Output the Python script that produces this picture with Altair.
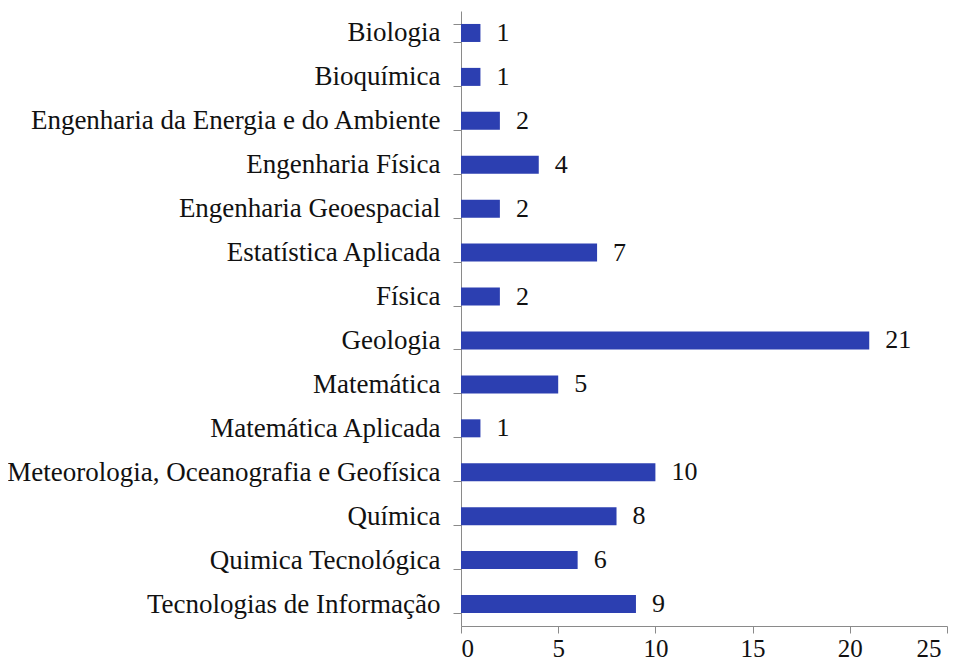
import altair as alt
import pandas as pd

categories = ["Biologia", "Bioquímica", "Engenharia da Energia e do Ambiente",
              "Engenharia Física", "Engenharia Geoespacial", "Estatística Aplicada",
              "Física", "Geologia", "Matemática", "Matemática Aplicada",
              "Meteorologia, Oceanografia e Geofísica", "Química",
              "Quimica Tecnológica", "Tecnologias de Informação"]
values = [1, 1, 2, 4, 2, 7, 2, 21, 5, 1, 10, 8, 6, 9]
x_ticks = [0, 5, 10, 15, 20, 25]

df = pd.DataFrame({"cat": categories, "val": values})
FONT = "Liberation Serif"
FS = 27

y_enc = alt.Y("cat:N", sort=None, title=None,
              scale=alt.Scale(paddingInner=0.59, paddingOuter=0.295),
              axis=alt.Axis(tickBand="extent", tickSize=8, labelPadding=13,
                            domainColor="#8a8a8a", tickColor="#8a8a8a",
                            labelFont=FONT, labelFontSize=FS, labelColor="#111111",
                            labelLimit=600))
x_enc = alt.X("val:Q", title=None,
              scale=alt.Scale(domain=[0, 25], nice=False),
              axis=alt.Axis(values=x_ticks, grid=False, tickSize=7, labelPadding=3,
                            domainColor="#8a8a8a", tickColor="#8a8a8a",
                            labelFont=FONT, labelFontSize=25, labelColor="#111111",
                            labelOffset={"condition": {"test": "datum.value == 25", "value": -6},
                                         "value": 0}))

bars = alt.Chart(df).mark_bar(color="#2C3FB1").encode(x=x_enc, y=y_enc)
labels = alt.Chart(df).mark_text(align="left", baseline="middle", dx=16,
                                 font=FONT, fontSize=26, color="#111111").encode(
    x="val:Q", y=alt.Y("cat:N", sort=None), text="val:Q")

chart = (bars + labels).properties(
    width=486, height=615,
    autosize=alt.AutoSizeParams(type="none"),
    padding={"left": 453, "top": 3, "right": 5, "bottom": 36},
    background="white",
).configure_view(stroke=None)

chart.save("out.html", embed_options={"renderer": "svg", "actions": False})
